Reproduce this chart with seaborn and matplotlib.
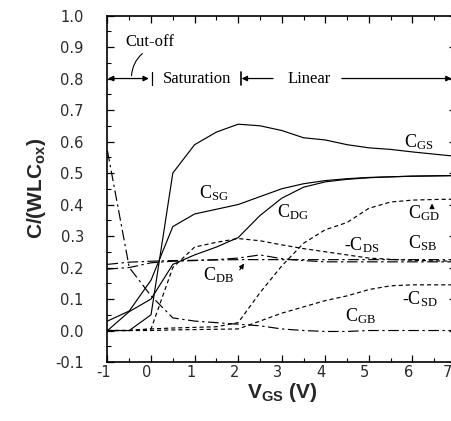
import numpy as np
import pandas as pd
import matplotlib
matplotlib.use("Agg")
import matplotlib.pyplot as plt
import matplotlib.transforms as mtransforms
import seaborn as sns
from matplotlib.ticker import MultipleLocator

# ---------------- data ----------------
vgs = [-1, -0.5, 0, 0.5, 1, 1.5, 2, 2.5, 3, 3.5, 4, 4.5, 5, 5.5, 6, 6.5, 7]

c_gs = [0.0, 0.0, 0.05, 0.50, 0.59, 0.63, 0.655, 0.65, 0.635, 0.612, 0.605, 0.59, 0.58, 0.575, 0.567, 0.56, 0.553]
c_sg = [0.03, 0.062, 0.16, 0.33, 0.37, 0.385, 0.40, 0.425, 0.45, 0.466, 0.476, 0.482, 0.486, 0.488, 0.49, 0.491, 0.492]
c_dg = [0.0, 0.06, 0.10, 0.21, 0.24, 0.265, 0.295, 0.365, 0.42, 0.455, 0.472, 0.48, 0.485, 0.488, 0.49, 0.491, 0.492]

c_gd = [0.0, 0.0, 0.005, 0.008, 0.01, 0.012, 0.025, 0.12, 0.205, 0.277, 0.32, 0.343, 0.388, 0.408, 0.414, 0.416, 0.417]
m_c_ds = [0.0, 0.0, 0.005, 0.20, 0.265, 0.28, 0.292, 0.285, 0.272, 0.26, 0.25, 0.24, 0.23, 0.226, 0.223, 0.221, 0.22]
m_c_sd = [0.0, 0.0, 0.0, 0.002, 0.003, 0.004, 0.005, 0.03, 0.055, 0.075, 0.095, 0.11, 0.13, 0.142, 0.145, 0.145, 0.145]

c_sb = [0.21, 0.217, 0.22, 0.222, 0.223, 0.224, 0.225, 0.225, 0.225, 0.225, 0.225, 0.225, 0.225, 0.225, 0.225, 0.225, 0.225]
c_db = [0.195, 0.20, 0.215, 0.22, 0.222, 0.225, 0.23, 0.24, 0.228, 0.222, 0.218, 0.218, 0.218, 0.218, 0.218, 0.218, 0.218]
c_gb = [0.57, 0.20, 0.11, 0.04, 0.03, 0.025, 0.02, 0.015, 0.005, 0.0, -0.003, -0.003, 0.0, 0.0, 0.0, 0.0, 0.0]

series = {
    "C_GS": (c_gs, "solid"),
    "C_SG": (c_sg, "solid"),
    "C_DG": (c_dg, "solid"),
    "C_GD": (c_gd, "dashed"),
    "-C_DS": (m_c_ds, "dashed"),
    "-C_SD": (m_c_sd, "dashed"),
    "C_SB": (c_sb, "dashdot"),
    "C_DB": (c_db, "dashdot"),
    "C_GB": (c_gb, "dashdot"),
}

xticks = [-1, 0, 1, 2, 3, 4, 5, 6, 7]
yticks = [-0.1, 0.0, 0.1, 0.2, 0.3, 0.4, 0.5, 0.6, 0.7, 0.8, 0.9, 1.0]

# ---------------- style ----------------
sns.set_theme(style="ticks")
plt.rcParams["font.family"] = ["DejaVu Sans"]
plt.rcParams["mathtext.fontset"] = "custom"
plt.rcParams["mathtext.rm"] = "Liberation Serif"
plt.rcParams["mathtext.it"] = "Liberation Serif:italic"
plt.rcParams["mathtext.bf"] = "Liberation Serif:bold"
plt.rcParams["mathtext.sf"] = "Liberation Sans:bold"

fig = plt.figure(figsize=(4.52, 4.21), dpi=100)
ax = fig.add_axes([0.2378, 0.1401, 0.7710, 0.8230])

dash_map = {
    "solid": "-",
    "dashed": (0, (3.5, 2.5)),
    "dashdot": (0, (9, 3, 2, 3)),
}

for name, (vals, style) in series.items():
    df = pd.DataFrame({"x": vgs, "y": vals})
    sns.lineplot(data=df, x="x", y="y", ax=ax, color="black", lw=0.85,
                 linestyle=dash_map[style], sort=False, estimator=None,
                 errorbar=None)

ax.set_xlim(-1, 7)
ax.set_ylim(-0.1, 1.0)
ax.set_xticks(xticks)
ax.set_yticks(yticks)
ax.set_xticklabels([f"{t:d}" for t in xticks])
ax.set_yticklabels([f"{t:.1f}" for t in yticks])
ax.xaxis.set_minor_locator(MultipleLocator(0.5))
ax.yaxis.set_minor_locator(MultipleLocator(0.05))
ax.tick_params(which="both", direction="in", top=True, right=True, color="black")
ax.tick_params(which="major", length=5, width=0.9)
ax.tick_params(which="minor", length=3, width=0.8)
ax.tick_params(axis="y", which="major", pad=17, labelsize=10.5, labelcolor="#2a2a2a")
ax.tick_params(axis="x", which="major", pad=2, labelsize=10.5, labelcolor="#2a2a2a")

# x tick labels sit a few pixels left of their ticks in the reference
majors = ax.xaxis.get_major_ticks()
for i, tk in enumerate(majors):
    dx = -9 if i == len(majors) - 1 else -4
    off = mtransforms.ScaledTranslation(dx / 100, 0, fig.dpi_scale_trans)
    tk.label1.set_transform(tk.label1.get_transform() + off)

for sp in ax.spines.values():
    sp.set_linewidth(1.2)
    sp.set_color("black")

ax.set_xlabel(r"V$_{\mathsf{GS}}$ (V)", fontsize=15, fontweight="bold",
              family="Liberation Sans", labelpad=1)
ax.set_ylabel(r"C/(WLC$_{\mathsf{ox}}$)", fontsize=15, fontweight="bold",
              family="Liberation Sans", labelpad=5)

# ---------------- curve labels ----------------
serif = "Liberation Serif"
lab_kw = dict(fontsize=13, family=serif, color="black", va="center", ha="left")
ax.text(5.8, 0.598, r"C$_{\mathrm{GS}}$", **lab_kw)
ax.text(1.1, 0.435, r"C$_{\mathrm{SG}}$", **lab_kw)
ax.text(2.9, 0.377, r"C$_{\mathrm{DG}}$", **lab_kw)
ax.text(5.9, 0.372, r"C$_{\mathrm{GD}}$", **lab_kw)
ax.text(4.42, 0.272, r"-C$_{\mathrm{DS}}$", **lab_kw)
ax.text(5.9, 0.278, r"C$_{\mathrm{SB}}$", **lab_kw)
ax.text(1.2, 0.176, r"C$_{\mathrm{DB}}$", **lab_kw)
ax.text(5.75, 0.100, r"-C$_{\mathrm{SD}}$", **lab_kw)
ax.text(4.46, 0.045, r"C$_{\mathrm{GB}}$", **lab_kw)

arrow_kw = dict(arrowstyle="-|>", color="black", lw=0.8, mutation_scale=7)
ax.annotate("", xy=(6.45, 0.412), xytext=(6.45, 0.385), arrowprops=arrow_kw)
ax.annotate("", xy=(2.17, 0.22), xytext=(2.0, 0.185), arrowprops=arrow_kw)

# ---------------- region annotations ----------------
reg_kw = dict(fontsize=12, family=serif, color="black", va="center")
ax.text(-0.02, 0.915, "Cut-off", ha="center", **reg_kw)
ax.annotate("", xy=(-0.45, 0.80), xytext=(-0.15, 0.885),
            arrowprops=dict(arrowstyle="-", color="black", lw=0.8,
                            connectionstyle="arc3,rad=0.25"))
ax.annotate("", xy=(-0.99, 0.80), xytext=(-0.05, 0.80),
            arrowprops=dict(arrowstyle="<|-|>", color="black", lw=0.9, mutation_scale=8,
                            shrinkA=0, shrinkB=0))
ax.plot([0.03, 0.03], [0.78, 0.82], color="black", lw=0.9)
ax.text(1.05, 0.80, "Saturation", ha="center", **reg_kw)
ax.plot([2.07, 2.07], [0.78, 0.82], color="black", lw=1.2)
ax.annotate("", xy=(2.08, 0.80), xytext=(2.8, 0.80),
            arrowprops=dict(arrowstyle="-|>", color="black", lw=0.9, mutation_scale=8,
                            shrinkA=0, shrinkB=0))
ax.text(3.62, 0.80, "Linear", ha="center", **reg_kw)
ax.annotate("", xy=(6.9, 0.80), xytext=(4.38, 0.80),
            arrowprops=dict(arrowstyle="-|>", color="black", lw=0.9, mutation_scale=8,
                            shrinkA=0, shrinkB=0))

fig.savefig("out.png", dpi=100)
